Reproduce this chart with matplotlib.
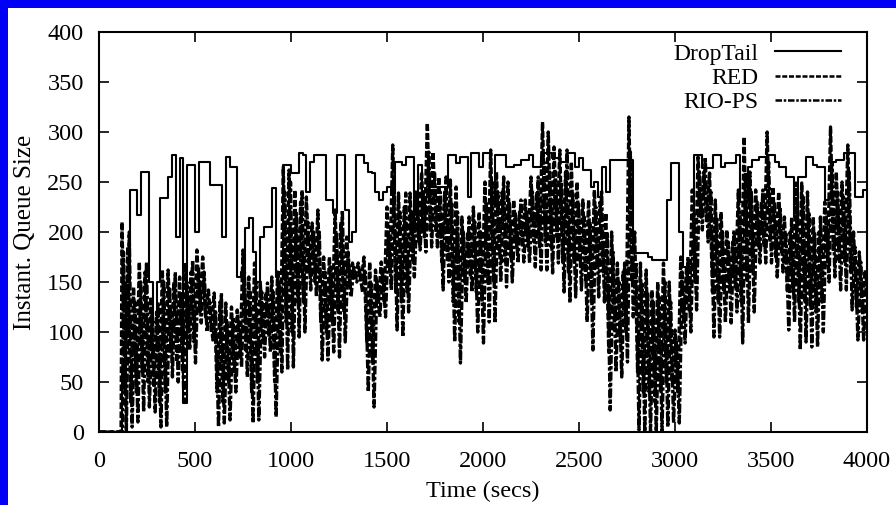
import numpy as np
import matplotlib
matplotlib.use("Agg")
import matplotlib.pyplot as plt
from matplotlib.lines import Line2D
from matplotlib.patches import Rectangle

# ---------------- data ----------------
x_ticks = [0, 500, 1000, 1500, 2000, 2500, 3000, 3500, 4000]
y_ticks = [0, 50, 100, 150, 200, 250, 300, 350, 400]
series_names = ["DropTail", "RED", "RIO-PS"]

# DropTail: value every 20 s starting at t = 120 s
droptail_start = 120
droptail_step = 20
droptail = [
    60, 150, 242, 242, 217, 260, 260, 150, 110, 150,
    234, 234, 255, 277, 195, 274, 29, 267, 267, 200,
    270, 270, 270, 247, 247, 247, 195, 275, 265, 265,
    155, 160, 204, 214, 180, 150, 195, 205, 205, 244,
    155, 160, 267, 267, 259, 259, 279, 277, 240, 270,
    277, 277, 277, 232, 232, 219, 277, 277, 222, 190,
    200, 277, 277, 269, 260, 259, 240, 232, 240, 245,
    240, 270, 270, 267, 275, 275, 205, 267, 200, 230,
    245, 245, 245, 245, 245, 277, 277, 269, 275, 275,
    235, 279, 279, 265, 279, 279, 230, 277, 277, 277,
    265, 265, 267, 267, 272, 272, 277, 265, 265, 275,
    279, 279, 274, 274, 270, 270, 279, 279, 265, 274,
    262, 262, 245, 250, 235, 265, 240, 272, 272, 272,
    272, 272, 272, 179, 179, 179, 179, 175, 172, 172,
    172, 172, 232, 269, 269, 200, 165, 165, 165, 277,
    277, 264, 264, 264, 277, 277, 265, 269, 269, 269,
    277, 230, 230, 265, 272, 272, 275, 275, 277, 277,
    270, 265, 265, 255, 255, 215, 255, 255, 275, 275,
    267, 265, 265, 232, 238, 270, 272, 272, 279, 279,
    279, 235, 235, 242,
]

# RED and RIO-PS oscillate fast: per 30 s bin, the high and low value
osc_start = 120
osc_step = 30
red_hi = [
    210, 185, 145, 170, 160, 135, 120, 162, 162, 150,
    155, 169, 160, 182, 175, 142, 139, 130, 129, 125,
    122, 182, 155, 169, 150, 140, 155, 160, 265, 262,
    242, 230, 235, 209, 222, 175, 175, 222, 210, 195,
    169, 169, 175, 170, 162, 170, 225, 287, 239, 225,
    239, 240, 260, 309, 280, 255, 240, 252, 245, 215,
    200, 225, 220, 250, 282, 260, 240, 250, 232, 220,
    232, 255, 240, 310, 300, 285, 282, 260, 270, 250,
    232, 232, 242, 230, 219, 200, 169, 160, 315, 200,
    169, 162, 142, 150, 169, 150, 102, 175, 165, 242,
    275, 260, 259, 232, 220, 202, 190, 242, 295, 260,
    242, 230, 300, 245, 240, 215, 200, 249, 249, 240,
    215, 200, 230, 305, 260, 250, 287, 200, 180, 162,
]
red_lo = [
    40, 30, 40, 60, 50, 45, 30, 40, 80, 70,
    60, 100, 90, 120, 115, 100, 40, 30, 50, 60,
    75, 80, 40, 50, 90, 95, 50, 80, 110, 100,
    130, 130, 160, 150, 110, 100, 110, 120, 120, 150,
    155, 150, 90, 70, 130, 130, 160, 140, 130, 140,
    170, 190, 195, 200, 200, 170, 170, 130, 110, 150,
    155, 140, 130, 150, 150, 180, 170, 175, 185, 185,
    185, 190, 185, 190, 185, 195, 170, 160, 170, 170,
    150, 130, 165, 160, 80, 100, 90, 100, 150, 60,
    40, 40, 30, 40, 50, 50, 40, 110, 120, 150,
    215, 210, 140, 130, 140, 140, 145, 130, 150, 160,
    185, 185, 190, 175, 180, 140, 140, 130, 130, 125,
    120, 130, 170, 180, 170, 170, 160, 125, 120, 140,
]
rio_hi = [
    180, 200, 130, 150, 170, 120, 130, 150, 145, 160,
    140, 150, 172, 165, 160, 130, 120, 139, 110, 115,
    110, 160, 140, 150, 140, 149, 140, 150, 240, 250,
    220, 242, 210, 200, 200, 160, 165, 200, 222, 180,
    165, 160, 160, 150, 150, 160, 200, 250, 220, 239,
    220, 230, 240, 280, 260, 240, 255, 230, 220, 200,
    215, 210, 200, 230, 250, 240, 255, 230, 220, 232,
    220, 240, 255, 270, 260, 260, 250, 282, 240, 230,
    215, 210, 225, 242, 200, 180, 150, 169, 280, 170,
    150, 140, 130, 135, 150, 130, 90, 160, 175, 220,
    260, 275, 240, 215, 200, 190, 202, 220, 260, 240,
    230, 242, 270, 230, 225, 200, 215, 230, 235, 220,
    200, 215, 215, 270, 240, 235, 260, 185, 170, 155,
]
rio_lo = [
    0, 5, 10, 20, 25, 20, 5, 5, 55, 50,
    30, 82, 69, 109, 100, 92, 5, 9, 12, 40,
    65, 55, 9, 12, 75, 80, 15, 60, 62, 65,
    95, 100, 142, 135, 72, 72, 80, 75, 90, 135,
    150, 140, 40, 25, 115, 115, 142, 102, 95, 120,
    155, 182, 180, 185, 185, 142, 150, 90, 69, 129,
    140, 100, 89, 110, 109, 150, 145, 150, 169, 170,
    169, 165, 162, 162, 159, 169, 140, 129, 135, 142,
    110, 82, 135, 130, 22, 60, 55, 70, 115, 2,
    0, 0, 0, 0, 5, 9, 9, 89, 100, 122,
    202, 190, 95, 95, 109, 109, 120, 89, 109, 120,
    169, 169, 169, 155, 160, 102, 110, 82, 90, 85,
    85, 100, 150, 155, 142, 142, 122, 92, 92, 129,
]

# ---------------- build paths ----------------
dt_t = np.concatenate([[0.0], droptail_start + droptail_step * np.arange(len(droptail)), [4000.0]])
dt_v = np.concatenate([[0.0], droptail, [droptail[-1]]])


def osc_path(hi, lo, offset):
    t0 = osc_start + osc_step * np.arange(len(hi)) + offset
    t = np.empty(2 * len(hi))
    v = np.empty(2 * len(hi))
    t[0::2] = t0
    t[1::2] = t0 + osc_step / 2
    v[0::2] = hi
    v[1::2] = lo
    return np.concatenate([[0.0, osc_start - 5 + offset], t]), np.concatenate([[0.0, 0.0], v])


red_t, red_v = osc_path(red_hi, red_lo, 0.0)
rio_t, rio_v = osc_path(rio_hi, rio_lo, osc_step / 4)

# ---------------- figure ----------------
W, H = 896, 505
fig = plt.figure(figsize=(W / 100, H / 100), dpi=100)
fig.patch.set_facecolor("white")
# blue frame of the slide (top and left)
fig.patches.append(Rectangle((0, 1 - 8 / H), 1, 8 / H, transform=fig.transFigure,
                             facecolor="#0000f4", edgecolor="none", zorder=-1))
fig.patches.append(Rectangle((0, 0), 8 / W, 1, transform=fig.transFigure,
                             facecolor="#0000f4", edgecolor="none", zorder=-1))

ax = fig.add_axes([99 / W, 1 - 432 / H, 768 / W, 400 / H])
serif = ["Liberation Serif", "DejaVu Serif"]

red_style = (0, (2.0, 0.7))
rio_style = (0, (2.6, 0.7, 1.0, 0.7))

ax.plot(dt_t, dt_v, color="black", lw=1.5, drawstyle="steps-post", zorder=3)
ax.plot(red_t, red_v, color="black", lw=2.4, linestyle=red_style, zorder=2)
ax.plot(rio_t, rio_v, color="black", lw=2.4, linestyle=rio_style, zorder=2)

ax.set_xlim(0, 4000)
ax.set_ylim(0, 400)
ax.set_xticks(x_ticks)
ax.set_yticks(y_ticks)
ax.set_xticklabels([str(v) for v in x_ticks], family=serif, fontsize=17.5)
ax.set_yticklabels([str(v) for v in y_ticks], family=serif, fontsize=17.5)
ax.tick_params(direction="in", length=7, width=1.2, top=True, right=True)
ax.tick_params(axis="x", pad=14)
ax.tick_params(axis="y", pad=11)
for s in ax.spines.values():
    s.set_linewidth(1.5)

ax.set_xlabel("Time (secs)", family=serif, fontsize=17.5, labelpad=6)
ax.set_ylabel("Instant. Queue Size", family=serif, fontsize=18, labelpad=8)

handles = [
    Line2D([], [], color="black", lw=1.5),
    Line2D([], [], color="black", lw=1.8, linestyle=red_style),
    Line2D([], [], color="black", lw=1.8, linestyle=rio_style),
]
leg = ax.legend(handles, series_names, loc="upper right", bbox_to_anchor=(0.966, 0.972),
                frameon=False, markerfirst=False, handlelength=2.8, handletextpad=0.7,
                labelspacing=0.12, borderpad=0.0, borderaxespad=0.0,
                prop={"family": serif, "size": 17})

fig.savefig("out.png", dpi=100, facecolor=fig.get_facecolor())
